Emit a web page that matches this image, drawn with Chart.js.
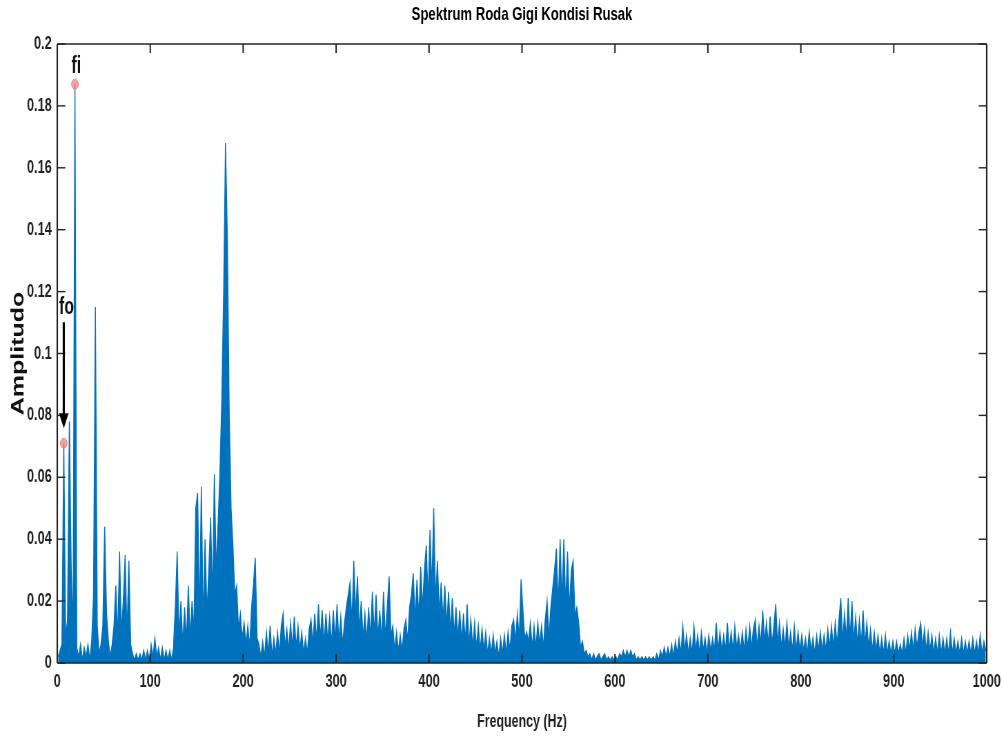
<!DOCTYPE html>
<html>
<head>
<meta charset="utf-8">
<title>Spektrum Roda Gigi Kondisi Rusak</title>
<script src="https://cdn.jsdelivr.net/npm/chart.js@4.4.1/dist/chart.umd.min.js"></script>
<style>
  html, body { margin: 0; padding: 0; background: #fff; overflow: hidden; }
  /* figure aslinya dipadatkan secara horizontal */
  #wrap { width: 1452px; height: 738px; transform: scaleX(0.69); transform-origin: 0 0; }
</style>
</head>
<body>
<div id="wrap"><canvas id="spektrum"></canvas></div>
<script>
const judul = "Spektrum Roda Gigi Kondisi Rusak"
const labelX = "Frequency (Hz)"
const labelY = "Amplitudo"

// bin FFT tiap 2 Hz, mulai dari 1 Hz
const frekAwal = 1
const langkahFrek = 2

// amplitudo tiap bin, satu baris = 20 Hz
const amplitudo = [
  0.002, 0.004, 0.006, 0.071, 0.008, 0.014, 0.078, 0.030, 0.010, 0.187,
  0.005, 0.002, 0.006, 0.001, 0.005, 0.002, 0.006, 0.001, 0.007, 0.022,
  0.115, 0.012, 0.003, 0.006, 0.012, 0.044, 0.016, 0.007, 0.002, 0.006,
  0.012, 0.025, 0.008, 0.036, 0.010, 0.020, 0.035, 0.009, 0.033, 0.006,
  0.003, 0.001, 0.003, 0.001, 0.003, 0.001, 0.004, 0.001, 0.004, 0.001,
  0.006, 0.002, 0.008, 0.002, 0.005, 0.001, 0.005, 0.001, 0.004, 0.001,
  0.004, 0.001, 0.005, 0.018, 0.036, 0.008, 0.020, 0.006, 0.018, 0.007,
  0.025, 0.008, 0.020, 0.010, 0.050, 0.055, 0.014, 0.057, 0.012, 0.040,
  0.016, 0.030, 0.047, 0.020, 0.061, 0.030, 0.045, 0.062, 0.085, 0.120,
  0.168, 0.137, 0.080, 0.050, 0.038, 0.022, 0.025, 0.011, 0.016, 0.008,
  0.013, 0.006, 0.012, 0.005, 0.018, 0.025, 0.034, 0.008, 0.006, 0.002,
  0.007, 0.002, 0.010, 0.003, 0.012, 0.002, 0.008, 0.003, 0.010, 0.003,
  0.012, 0.016, 0.005, 0.011, 0.004, 0.013, 0.005, 0.015, 0.005, 0.012,
  0.004, 0.010, 0.003, 0.008, 0.003, 0.011, 0.014, 0.006, 0.016, 0.007,
  0.019, 0.008, 0.017, 0.006, 0.016, 0.007, 0.015, 0.006, 0.017, 0.007,
  0.019, 0.007, 0.015, 0.006, 0.013, 0.018, 0.022, 0.026, 0.013, 0.033,
  0.016, 0.028, 0.010, 0.020, 0.008, 0.016, 0.007, 0.018, 0.008, 0.023,
  0.009, 0.022, 0.008, 0.017, 0.007, 0.023, 0.008, 0.018, 0.028, 0.009,
  0.012, 0.004, 0.010, 0.004, 0.009, 0.004, 0.011, 0.014, 0.007, 0.018,
  0.022, 0.029, 0.014, 0.027, 0.015, 0.031, 0.018, 0.030, 0.038, 0.020,
  0.043, 0.024, 0.050, 0.020, 0.033, 0.016, 0.026, 0.014, 0.025, 0.012,
  0.023, 0.010, 0.021, 0.009, 0.018, 0.008, 0.017, 0.007, 0.016, 0.007,
  0.019, 0.006, 0.014, 0.005, 0.013, 0.005, 0.012, 0.004, 0.011, 0.004,
  0.010, 0.003, 0.008, 0.003, 0.009, 0.003, 0.007, 0.002, 0.008, 0.003,
  0.009, 0.003, 0.010, 0.004, 0.012, 0.014, 0.007, 0.016, 0.008, 0.027,
  0.017, 0.008, 0.010, 0.007, 0.013, 0.005, 0.012, 0.005, 0.013, 0.006,
  0.012, 0.005, 0.014, 0.020, 0.008, 0.018, 0.024, 0.030, 0.037, 0.018,
  0.040, 0.020, 0.040, 0.019, 0.036, 0.017, 0.030, 0.033, 0.015, 0.018,
  0.013, 0.005, 0.007, 0.003, 0.004, 0.002, 0.003, 0.001, 0.003, 0.001,
  0.002, 0.003, 0.001, 0.002, 0.003, 0.001, 0.002, 0.001, 0.002, 0.001,
  0.002, 0.001, 0.003, 0.002, 0.004, 0.002, 0.004, 0.002, 0.004, 0.002,
  0.003, 0.001, 0.002, 0.001, 0.002, 0.001, 0.002, 0.001, 0.002, 0.001,
  0.002, 0.001, 0.003, 0.001, 0.004, 0.002, 0.005, 0.002, 0.005, 0.002,
  0.006, 0.002, 0.007, 0.003, 0.008, 0.003, 0.012, 0.004, 0.009, 0.003,
  0.008, 0.003, 0.012, 0.004, 0.009, 0.003, 0.010, 0.004, 0.008, 0.003,
  0.009, 0.004, 0.008, 0.004, 0.013, 0.004, 0.010, 0.004, 0.009, 0.004,
  0.013, 0.004, 0.010, 0.004, 0.012, 0.005, 0.009, 0.004, 0.010, 0.004,
  0.011, 0.005, 0.012, 0.005, 0.011, 0.014, 0.005, 0.012, 0.006, 0.017,
  0.007, 0.013, 0.006, 0.015, 0.006, 0.012, 0.019, 0.006, 0.013, 0.005,
  0.011, 0.005, 0.013, 0.005, 0.010, 0.004, 0.012, 0.004, 0.010, 0.004,
  0.009, 0.004, 0.008, 0.003, 0.010, 0.004, 0.008, 0.003, 0.009, 0.004,
  0.010, 0.004, 0.009, 0.004, 0.011, 0.005, 0.012, 0.005, 0.013, 0.006,
  0.014, 0.021, 0.007, 0.016, 0.008, 0.021, 0.008, 0.020, 0.007, 0.015,
  0.006, 0.014, 0.006, 0.017, 0.006, 0.013, 0.005, 0.011, 0.004, 0.010,
  0.004, 0.009, 0.003, 0.008, 0.003, 0.009, 0.003, 0.007, 0.003, 0.007,
  0.003, 0.007, 0.003, 0.006, 0.003, 0.008, 0.003, 0.009, 0.004, 0.010,
  0.004, 0.011, 0.005, 0.010, 0.013, 0.005, 0.011, 0.004, 0.010, 0.004,
  0.009, 0.003, 0.008, 0.003, 0.009, 0.003, 0.008, 0.003, 0.008, 0.003,
  0.010, 0.003, 0.008, 0.003, 0.007, 0.003, 0.008, 0.003, 0.007, 0.003,
  0.007, 0.003, 0.008, 0.003, 0.007, 0.003, 0.009, 0.003, 0.007, 0.004
]

const tickFrek = [0, 100, 200, 300, 400, 500, 600, 700, 800, 900, 1000]
const tickAmp = [0, 0.02, 0.04, 0.06, 0.08, 0.1, 0.12, 0.14, 0.16, 0.18, 0.2]

// puncak yang ditandai
const namaPuncak = ["fo", "fi"]
const frekPuncak = [7, 19]
const ampPuncak = [0.071, 0.187]

const biru = "#0072BD"
const gelap = "#222222"
const sempit = 0.69
const fontTick = "'Liberation Sans', Arial, sans-serif"

const dataSpektrum = amplitudo.map((a, i) => ({ x: frekAwal + i * langkahFrek, y: a }))
const dataPuncak = frekPuncak.map((f, i) => ({ x: f, y: ampPuncak[i] }))

function garis(ctx, x1, y1, x2, y2, lebar) {
  ctx.beginPath()
  ctx.lineWidth = lebar
  ctx.moveTo(x1, y1)
  ctx.lineTo(x2, y2)
  ctx.stroke()
}

const bingkai = {
  id: 'bingkai',
  afterDatasetsDraw(chart) {
    const { ctx, chartArea: a, scales } = chart
    ctx.save()
    ctx.strokeStyle = gelap
    // kotak sumbu
    garis(ctx, a.left, a.top, a.right, a.top, 1.5)
    garis(ctx, a.left, a.bottom, a.right, a.bottom, 1.5)
    garis(ctx, a.left, a.top, a.left, a.bottom, 1.5 / sempit)
    garis(ctx, a.right, a.top, a.right, a.bottom, 1.5 / sempit)
    // tick ke dalam
    scales.x.ticks.forEach(t => {
      const px = scales.x.getPixelForValue(t.value)
      garis(ctx, px, a.bottom, px, a.bottom - 9, 1.4 / sempit)
      garis(ctx, px, a.top, px, a.top + 9, 1.4 / sempit)
    })
    scales.y.ticks.forEach(t => {
      const py = scales.y.getPixelForValue(t.value)
      garis(ctx, a.left, py, a.left + 8 / sempit, py, 1.4)
      garis(ctx, a.right, py, a.right - 8 / sempit, py, 1.4)
    })

    // label fo / fi
    const fo = chart.getDatasetMeta(0).data[0]
    const fi = chart.getDatasetMeta(0).data[1]
    ctx.fillStyle = "#111"
    ctx.font = "bold 23px 'Liberation Sans', Arial, sans-serif"
    ctx.textAlign = 'center'
    ctx.textBaseline = 'alphabetic'
    ctx.fillText(namaPuncak[1], fi.x + 2, fi.y - 11)
    ctx.fillText(namaPuncak[0], fo.x + 4, fo.y - 129)

    // panah ke fo
    ctx.strokeStyle = "#000"
    ctx.fillStyle = "#000"
    garis(ctx, fo.x, fo.y - 121, fo.x, fo.y - 28, 2.2 / sempit)
    ctx.beginPath()
    ctx.moveTo(fo.x - 7, fo.y - 30)
    ctx.lineTo(fo.x + 7, fo.y - 30)
    ctx.lineTo(fo.x, fo.y - 15)
    ctx.closePath()
    ctx.fill()
    ctx.restore()
  },
  afterDraw(chart) {
    const { ctx, chartArea: a } = chart
    const tengah = (a.left + a.right) / 2
    ctx.save()
    ctx.fillStyle = "#000"
    ctx.textAlign = 'center'
    ctx.textBaseline = 'middle'
    ctx.font = "bold 19px " + fontTick
    ctx.fillText(judul, tengah, 15)
    ctx.fillStyle = gelap
    ctx.font = "bold 18px " + fontTick
    ctx.fillText(labelX, tengah, 722)
    ctx.translate(27, (a.top + a.bottom) / 2)
    ctx.rotate(-Math.PI / 2)
    ctx.fillStyle = "#111"
    ctx.font = "bold 25px " + fontTick
    ctx.fillText(labelY, 0, 0)
    ctx.restore()
  }
}

new Chart(document.getElementById("spektrum"), {
  type: 'line',
  data: {
    datasets: [{
      label: 'puncak',
      data: dataPuncak,
      showLine: false,
      pointRadius: 5,
      pointBackgroundColor: 'rgba(238, 130, 130, 0.75)',
      pointBorderColor: 'rgba(238, 130, 130, 0.9)',
      pointBorderWidth: 1,
      order: 0
    }, {
      label: 'spektrum',
      data: dataSpektrum,
      borderColor: biru,
      backgroundColor: biru,
      borderWidth: 1.4,
      pointRadius: 0,
      tension: 0,
      fill: 'origin',
      order: 1
    }]
  },
  options: {
    responsive: true,
    maintainAspectRatio: false,
    animation: false,
    events: [],
    layout: { padding: { top: 44, right: 22, left: 0, bottom: 0 } },
    plugins: {
      legend: { display: false },
      tooltip: { enabled: false },
      title: { display: false }
    },
    scales: {
      x: {
        type: 'linear',
        min: 0,
        max: 1000,
        afterBuildTicks: s => { s.ticks = tickFrek.map(v => ({ value: v })) },
        afterFit: s => { s.height = 75 },
        grid: { display: false },
        border: { display: false },
        ticks: {
          autoSkip: false,
          maxRotation: 0,
          padding: 0,
          color: gelap,
          font: { family: fontTick, size: 18.5, weight: 'bold' },
          callback: v => String(v)
        }
      },
      y: {
        min: 0,
        max: 0.2,
        afterBuildTicks: s => { s.ticks = tickAmp.map(v => ({ value: v })) },
        afterFit: s => { s.width = 83 },
        grid: { display: false },
        border: { display: false },
        ticks: {
          padding: 0,
          color: gelap,
          font: { family: fontTick, size: 18.5, weight: 'bold' },
          callback: v => String(Number(v.toFixed(2)))
        }
      }
    }
  },
  plugins: [bingkai]
})
</script>
</body>
</html>
